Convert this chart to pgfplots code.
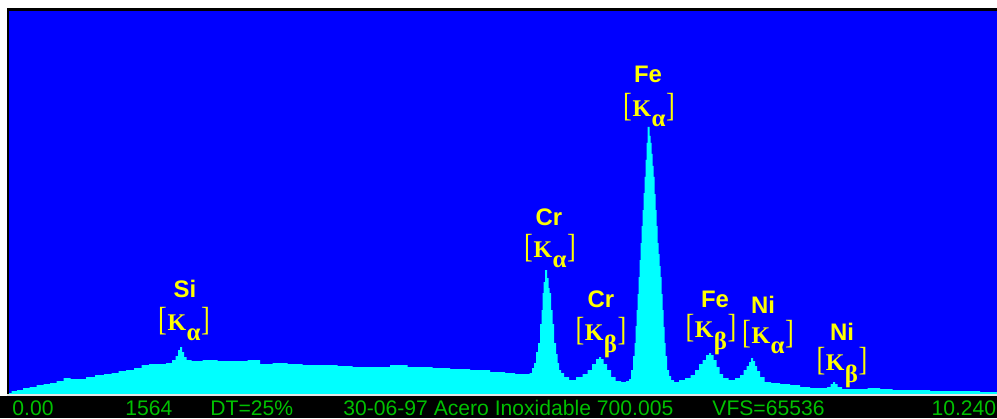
\documentclass[border=0pt]{standalone}
\usepackage{pgfplots}
\pgfplotsset{compat=1.18}
\usepackage{fontspec}
\setmainfont{Liberation Sans}
\newfontfamily\seriffont{Liberation Serif}
\usepackage{graphicx}
\definecolor{bg}{RGB}{0,0,255}
\definecolor{spec}{RGB}{0,255,255}
\definecolor{ylw}{RGB}{255,255,0}
\definecolor{grn}{RGB}{0,192,0}
\newcommand{\elem}[1]{{\fontsize{12}{12}\selectfont\bfseries #1}}
\newcommand{\kline}[2]{{\seriffont\fontsize{12}{12}\selectfont\scalebox{1.1}[1.4]{[}\kern0.3bp{\bfseries K}\kern0.2bp\raisebox{#2}{\bfseries\fontsize{12.5}{12}\selectfont #1}\kern0.3bp\scalebox{1.1}[1.4]{]}}}
\begin{document}
\begin{tikzpicture}[x=1bp,y=1bp]
\useasboundingbox (0,0) rectangle (498.5,209);
\fill[white] (0,0) rectangle (498.5,209);
\fill[black] (0,0) rectangle (498.5,11);
\fill[black] (3.5,11) rectangle (498.5,205);
\begin{axis}[at={(4.5bp,12bp)}, anchor=south west, scale only axis,
  width=494bp, height=191.5bp, xmin=9, xmax=997, ymin=0, ymax=383,
  axis line style={draw=none}, ticks=none,
  axis background/.style={fill=bg}, clip=true]
\addplot[fill=spec, draw=none, const plot mark mid] coordinates {
(9,1)(14,3)(20,4)(26,6)(33,7)(40,9)(47,10)(53,11)(60,13)(67,16)(74,15)(82,15)
(90,17)(100,19)(108,20)(115,21)(122,23)(130,24)(138,26)(145,29)(153,30)(162,30)
(170,31)(174,34)(177,38)(179,44)(181,47)(183,42)(185,37)(188,34)(195,33)(210,34)
(225,33)(240,33)(255,34)(265,30)(280,31)(295,30)(310,29)(330,29)(345,28)(360,27)
(380,27)(400,29)(415,27)(425,27)(440,26)(460,25)(480,24)(500,22)(510,21)(520,20)
(528,20)(531,21)(533,26)(535,31)(537,42)(539,51)(541,70)(542,84)(543,101)(544,112)
(546,124)(548,116)(549,106)(550,101)(552,84)(553,70)(555,51)(557,40)(558,31)(560,24)
(562,21)(566,17)(572,14)(580,17)(585,20)(590,24)(594,30)(598,35)(600,37)(602,35)
(605,30)(609,24)(613,17)(618,13)(624,12)(628,13)(630,15)(632,24)(634,38)(635,51)
(636,68)(637,84)(638,100)(639,117)(640,134)(641,151)(642,168)(643,184)(644,201)
(645,217)(646,234)(647,251)(648,267)(649,267)(650,258)(651,251)(652,240)(653,228)
(654,217)(655,200)(656,184)(657,168)(658,151)(659,140)(660,128)(661,117)(662,100)
(663,84)(664,67)(665,51)(666,38)(668,24)(670,18)(672,14)(676,12)(682,14)(688,16)
(693,19)(697,24)(701,30)(704,34)(708,39)(710,41)(712,39)(715,34)(718,27)(721,20)
(725,16)(732,14)(738,16)(742,19)(745,24)(748,28)(750,32)(752,36)(754,33)(756,28)
(758,23)(762,17)(767,12)(775,11)(785,10)(795,9)(805,7)(815,6)(825,6)(829,7)
(832,10)(834,12)(836,10)(839,7)(845,5)(860,5)(875,6)(885,5)(900,4)(920,4)
(940,3)(978,3)(982,2)(997,2)
} \closedcycle;
% labels
\node[anchor=base, text=ylw, inner sep=0] at (axis cs:185,97) {\elem{Si}};
\node[anchor=base, text=ylw, inner sep=0] at (axis cs:184,64) {\kline{α}{-5bp}};
\node[anchor=base, text=ylw, inner sep=0] at (axis cs:549,169) {\elem{Cr}};
\node[anchor=base, text=ylw, inner sep=0] at (axis cs:550,137) {\kline{α}{-5bp}};
\node[anchor=base, text=ylw, inner sep=0] at (axis cs:601,87) {\elem{Cr}};
\node[anchor=base, text=ylw, inner sep=0] at (axis cs:601,54) {\kline{β}{-6bp}};
\node[anchor=base, text=ylw, inner sep=0] at (axis cs:648,311) {\elem{Fe}};
\node[anchor=base, text=ylw, inner sep=0] at (axis cs:649,277) {\kline{α}{-5bp}};
\node[anchor=base, text=ylw, inner sep=0] at (axis cs:715,87) {\elem{Fe}};
\node[anchor=base, text=ylw, inner sep=0] at (axis cs:711,57) {\kline{β}{-6bp}};
\node[anchor=base, text=ylw, inner sep=0] at (axis cs:763,81) {\elem{Ni}};
\node[anchor=base, text=ylw, inner sep=0] at (axis cs:768,51) {\kline{α}{-5bp}};
\node[anchor=base, text=ylw, inner sep=0] at (axis cs:842,54) {\elem{Ni}};
\node[anchor=base, text=ylw, inner sep=0] at (axis cs:842,24) {\kline{β}{-6bp}};
\end{axis}
\fill[white!80!gray] (3.5,11) rectangle (498.5,12);
\begin{scope}[every node/.style={text=grn, inner sep=0, font=\fontsize{10.6}{12}\selectfont}]
\node[anchor=base west] at (6,1.3) {0.00};
\node[anchor=base west] at (62.5,1.3) {1564};
\node[anchor=base west] at (105,1.3) {DT=25\%};
\node[anchor=base west] at (171.5,1.3) {30-06-97 Acero Inoxidable 700.005};
\node[anchor=base west] at (356,1.3) {VFS=65536};
\node[anchor=base east] at (498.3,1.3) {10.240};
\end{scope}
\end{tikzpicture}
\end{document}
